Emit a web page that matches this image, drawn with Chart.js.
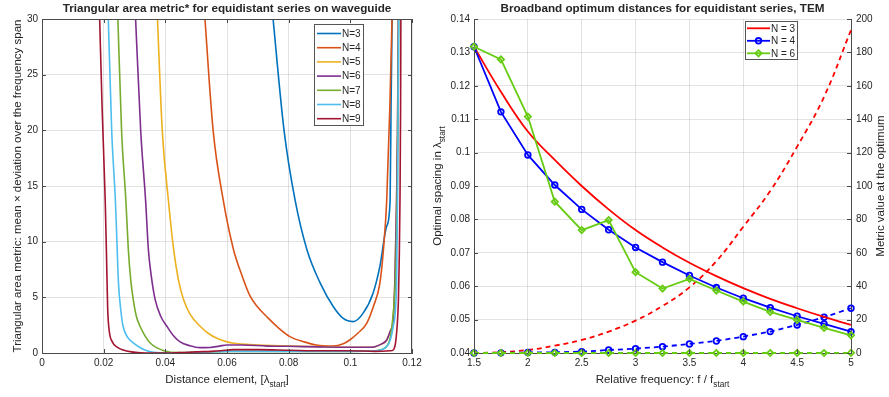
<!DOCTYPE html>
<html><head><meta charset="utf-8">
<script src="https://cdn.jsdelivr.net/npm/chart.js@4/dist/chart.umd.min.js"></script>
<style>
html,body{margin:0;padding:0;background:#fff;width:889px;height:397px;overflow:hidden}
#c1{position:absolute;left:0;top:0}
#c2{position:absolute;left:428px;top:0}
</style></head>
<body>
<canvas id="c1" width="428" height="397"></canvas>
<canvas id="c2" width="461" height="397"></canvas>
<script>
// ---------- LEFT PANEL DATA ----------
const leftLabels = ['N=3','N=4','N=5','N=6','N=7','N=8','N=9'];
const n3x = [0.0746,0.0785,0.0821,0.0859,0.0902,0.0944,0.0977,0.1009,0.1041,0.1074,0.1096,0.1118,0.1129,0.1132,0.1136];
const n3y = [31,20,13.7,9.3,6.3,4.2,3.1,2.82,3.56,5.4,7.8,11.4,13.7,22,31];
const n4x = [0.0526,0.0555,0.0588,0.0621,0.0648,0.0675,0.07,0.0729,0.0765,0.0804,0.085,0.089,0.0944,0.0975,0.0998,0.1025,0.1053,0.1075,0.1096,0.1108,0.1118,0.1128,0.1136];
const n4y = [31,20,13.7,9.3,7,5.1,4.1,3.26,2.3,1.47,1.0,0.72,0.63,0.8,1.17,1.8,2.67,4.2,6.3,9.5,13.7,22,31];
const n5x = [0.0373,0.039,0.041,0.0427,0.0443,0.0459,0.048,0.0513,0.054,0.0567,0.06,0.0621,0.065,0.07,0.08,0.09,0.1,0.106,0.108,0.11,0.1118,0.113,0.1139,0.1145,0.115,0.1153,0.1156];
const n5y = [31,20,13.7,9.3,6.5,4.8,3.5,2.4,1.75,1.32,1.0,0.87,0.8,0.72,0.62,0.57,0.52,0.52,0.57,0.8,1.17,2.0,3.0,7,13.7,20,31];
const n6x = [0.0302,0.032,0.0336,0.0345,0.0355,0.0367,0.0385,0.0405,0.0425,0.0448,0.048,0.0512,0.0545,0.0575,0.06,0.065,0.073,0.08,0.09,0.1,0.106,0.108,0.11,0.1118,0.113,0.1139,0.1145,0.115,0.1153,0.1156];
const n6y = [31,20,13.7,9.3,6.8,4.8,3.3,2.4,1.6,1.0,0.65,0.48,0.5,0.62,0.72,0.72,0.62,0.6,0.55,0.52,0.52,0.57,0.8,1.17,2.0,3.0,7,13.7,20,31];
const n7x = [0.0245,0.0258,0.0272,0.028,0.0288,0.0296,0.0306,0.0318,0.0335,0.0351,0.037,0.0395,0.044,0.05,0.06,0.07,0.08,0.09,0.1,0.108,0.1118,0.113,0.1139,0.1148,0.1152,0.1155,0.1157];
const n7y = [31,20,13.7,9.3,6.5,4.8,3.3,2.4,1.5,0.9,0.5,0.21,0.03,0.05,0.15,0.15,0.15,0.15,0.15,0.2,0.6,1.5,3.5,8,14,22,31];
const n8x = [0.0214,0.0226,0.0238,0.0242,0.0248,0.0255,0.0263,0.0278,0.0296,0.032,0.034,0.0383,0.045,0.05,0.06,0.07,0.08,0.09,0.1,0.108,0.1118,0.113,0.1139,0.115,0.1153,0.1155,0.1157];
const n8y = [31,20,13.7,10.8,6.3,4,2.4,1.4,0.9,0.45,0.21,0.02,0,0.05,0.15,0.15,0.15,0.15,0.15,0.2,0.57,1.2,2.4,6.3,13.7,22,31];
const n9x = [0.0186,0.0195,0.0205,0.0209,0.0213,0.0218,0.0228,0.0245,0.0263,0.029,0.032,0.036,0.042,0.046,0.05,0.055,0.058,0.062,0.07,0.08,0.09,0.1,0.108,0.113,0.1139,0.1146,0.115,0.1156,0.1159,0.1161,0.1163,0.1164];
const n9y = [31,22,13.7,9,4,2.0,1.0,0.5,0.27,0.1,0.02,0,0,0.05,0.1,0.15,0.2,0.3,0.3,0.25,0.2,0.2,0.15,0.2,0.27,0.8,1.8,4.8,9,13.7,22,31];
const leftXs = [n3x,n4x,n5x,n6x,n7x,n8x,n9x];
const leftYs = [n3y,n4y,n5y,n6y,n7y,n8y,n9y];
const leftXTicks = [0,0.02,0.04,0.06,0.08,0.1,0.12];
const leftXTickLabels = ['0','0.02','0.04','0.06','0.08','0.1','0.12'];
const leftYTicks = [0,5,10,15,20,25,30];
const leftYTickLabels = ['0','5','10','15','20','25','30'];

// ---------- RIGHT PANEL DATA ----------
const freq = [1.5,1.75,2,2.25,2.5,2.75,3,3.25,3.5,3.75,4,4.25,4.5,4.75,5];
const spacingN3 = [0.1317,0.1182,0.1063,0.0978,0.0900,0.0830,0.0768,0.0716,0.0670,0.0630,0.0594,0.0562,0.0534,0.0508,0.0484];
const spacingN4 = [0.1317,0.1122,0.0993,0.0903,0.0830,0.0769,0.0716,0.0672,0.0632,0.0596,0.0564,0.0536,0.0510,0.0487,0.0464];
const spacingN6 = [0.1317,0.1279,0.1108,0.0853,0.0768,0.0798,0.0642,0.0593,0.0622,0.0587,0.0554,0.0523,0.0499,0.0475,0.0453];
const metricN3 = [0,0.5,1.8,4.4,7.8,12.8,19.4,28.1,39.3,55,75.6,97,123.6,153.4,193.4];
const metricN4 = [0,0.1,0.3,0.4,0.8,1.8,2.6,3.8,5.4,7.2,9.8,12.8,16.8,21.4,26.8];
const metricN6 = [0,0,0,0,0,0,0,0,0,0,0,0,0,0,0.1];
const rightLabels = ['N = 3','N = 4','N = 6'];
const rightXTicks = [1.5,2,2.5,3,3.5,4,4.5,5];
const rightXTickLabels = ['1.5','2','2.5','3','3.5','4','4.5','5'];
const rightYTicks = [0.04,0.05,0.06,0.07,0.08,0.09,0.1,0.11,0.12,0.13,0.14];
const rightYTickLabels = ['0.04','0.05','0.06','0.07','0.08','0.09','0.1','0.11','0.12','0.13','0.14'];
const right2Ticks = [0,20,40,60,80,100,120,140,160,180,200];
const right2TickLabels = ['0','20','40','60','80','100','120','140','160','180','200'];

// ---------- STYLES ----------
const FONT = "'Liberation Sans', Arial, Helvetica, sans-serif";
const TXT = '#262626';
const GRID = 'rgba(38,38,38,0.13)';
const AXIS = '#4a4a4a';
const leftColors = ['#0072BD','#D95319','#EDB120','#7E2F8E','#77AC30','#4DBEEE','#A2142F'];
const cRed = '#ff0000', cBlue = '#0000ff', cGreen = '#66cc11';

Chart.defaults.font.family = FONT;
Chart.defaults.color = TXT;

function richDraw(ctx, parts, cx, cy, size, rot, bold){
  ctx.save();
  ctx.translate(cx, cy);
  if (rot) ctx.rotate(rot);
  const f = (s)=> (bold?'bold ':'') + s + 'px ' + FONT;
  let w = 0;
  for (const p of parts){ ctx.font = f(p.sub ? size*0.72 : size); w += ctx.measureText(p.t).width; }
  let x = -w/2;
  ctx.textBaseline = 'middle'; ctx.textAlign = 'left'; ctx.fillStyle = TXT;
  for (const p of parts){
    ctx.font = f(p.sub ? size*0.72 : size);
    ctx.fillText(p.t, x, p.sub ? size*0.42 : 0);
    x += ctx.measureText(p.t).width;
  }
  ctx.restore();
}

function setTicks(vals){ return (scale)=>{ scale.ticks = vals.map(v=>({value:v})); }; }
function fmt(labels){ return (v, i)=> labels[i]; }

const decorPlugin = {
  id: 'decor',
  afterDraw(chart, args, o){
    const ctx = chart.ctx, a = chart.chartArea;
    ctx.save();
    ctx.strokeStyle = AXIS; ctx.lineWidth = 1;
    ctx.beginPath();
    if (o.boxTop){ ctx.moveTo(a.left, a.top+0.5); ctx.lineTo(a.right, a.top+0.5); }
    if (o.boxRight){ ctx.moveTo(a.right-0.5, a.top); ctx.lineTo(a.right-0.5, a.bottom); }
    ctx.stroke();
    const L = 4;
    ctx.beginPath();
    const xs = chart.scales.x;
    xs.ticks.forEach(t=>{ const p = Math.round(xs.getPixelForValue(t.value))+0.5;
      ctx.moveTo(p, a.bottom); ctx.lineTo(p, a.bottom-L);
      if (o.boxTop){ ctx.moveTo(p, a.top); ctx.lineTo(p, a.top+L); } });
    const ys = chart.scales.y;
    ys.ticks.forEach(t=>{ const p = Math.round(ys.getPixelForValue(t.value))+0.5;
      ctx.moveTo(a.left, p); ctx.lineTo(a.left+L, p);
      if (o.boxRight){ ctx.moveTo(a.right, p); ctx.lineTo(a.right-L, p); } });
    if (chart.scales.y1){ const y1 = chart.scales.y1;
      y1.ticks.forEach(t=>{ const p = Math.round(y1.getPixelForValue(t.value))+0.5;
        ctx.moveTo(a.right, p); ctx.lineTo(a.right-L, p); }); }
    ctx.stroke();
    richDraw(ctx, o.title, (a.left+a.right)/2, 9, 11.7, 0, true);
    richDraw(ctx, o.xTitle, (a.left+a.right)/2, 380, 11.5, 0, false);
    richDraw(ctx, o.yTitle, o.yTitleX, (a.top+a.bottom)/2, 11.5, -Math.PI/2, false);
    if (o.y1Title) richDraw(ctx, o.y1Title, o.y1TitleX, (a.top+a.bottom)/2, 11.5, -Math.PI/2, false);
    const lg = o.legend;
    const items = lg.items.map(i=>chart.data.datasets[i]);
    ctx.fillStyle = '#fff'; ctx.fillRect(lg.x, lg.y, lg.w, lg.h);
    ctx.strokeStyle = '#555'; ctx.lineWidth = 1;
    ctx.strokeRect(lg.x+0.5, lg.y+0.5, lg.w, lg.h);
    ctx.font = '10px ' + FONT; ctx.textBaseline = 'middle'; ctx.textAlign = 'left'; ctx.fillStyle = TXT;
    items.forEach((d, k)=>{
      const cy = lg.y + lg.first + k*lg.step;
      ctx.strokeStyle = d.borderColor; ctx.lineWidth = d.borderWidth; ctx.setLineDash([]);
      ctx.beginPath(); ctx.moveTo(lg.x+lg.l0, cy); ctx.lineTo(lg.x+lg.l1, cy); ctx.stroke();
      if (d.pointRadius > 0){
        const mx = lg.x + (lg.l0+lg.l1)/2, r = d.pointRadius;
        ctx.lineWidth = d.pointBorderWidth; ctx.strokeStyle = d.borderColor; ctx.beginPath();
        if (d.pointStyle === 'circle'){ ctx.arc(mx, cy, r, 0, Math.PI*2); }
        else { ctx.moveTo(mx, cy-r); ctx.lineTo(mx+r, cy); ctx.lineTo(mx, cy+r); ctx.lineTo(mx-r, cy); ctx.closePath(); }
        ctx.stroke();
      }
      ctx.fillStyle = TXT;
      ctx.fillText(d.label, lg.x+lg.tx, cy+0.5);
    });
    ctx.restore();
  }
};

// ---------- LEFT CHART ----------
const leftDatasets = leftLabels.map((lab, i)=>({
  label: lab,
  data: leftXs[i].map((x, k)=>({x, y: leftYs[i][k]})),
  borderColor: leftColors[i],
  backgroundColor: leftColors[i],
  borderWidth: 1.6,
  pointRadius: 0,
  pointBorderWidth: 0,
  cubicInterpolationMode: 'monotone',
  order: leftLabels.length - i
}));

new Chart(document.getElementById('c1'), {
  type: 'line',
  data: { datasets: leftDatasets },
  plugins: [decorPlugin],
  options: {
    responsive: false, animation: false, devicePixelRatio: 1,
    layout: { padding: { top: 19, right: 16, left: 0, bottom: 0 } },
    plugins: {
      legend: { display: false }, tooltip: { enabled: false },
      decor: {
        boxTop: true, boxRight: true,
        title: [{t:'Triangular area metric* for equidistant series on waveguide'}],
        xTitle: [{t:'Distance element, [\u03bb'},{t:'start',sub:true},{t:']'}],
        yTitle: [{t:'Triangular area metric: mean \u00d7 deviation over the frequency span'}],
        yTitleX: 18,
        legend: { items:[0,1,2,3,4,5,6], x:314, y:24, w:49, h:101, first:9.5, step:14.2, l0:3, l1:27, tx:28 }
      }
    },
    scales: {
      x: {
        type: 'linear', min: 0, max: 0.12,
        afterBuildTicks: setTicks(leftXTicks),
        afterFit: s=>{ s.height = 44; },
        ticks: { callback: fmt(leftXTickLabels), font:{size:10}, color: TXT, padding: 4, maxRotation: 0, autoSkip: false },
        grid: { color: GRID, drawTicks: false },
        border: { color: AXIS, width: 1 }
      },
      y: {
        type: 'linear', min: 0, max: 30,
        afterBuildTicks: setTicks(leftYTicks),
        afterFit: s=>{ s.width = 42; },
        ticks: { callback: fmt(leftYTickLabels), font:{size:10}, color: TXT, padding: 4, autoSkip: false },
        grid: { color: GRID, drawTicks: false },
        border: { color: AXIS, width: 1 }
      }
    }
  }
});

// ---------- RIGHT CHART ----------
const mk = (arr)=> freq.map((x, k)=>({x, y: arr[k]}));
const rightDatasets = [
  { label: rightLabels[0], data: mk(spacingN3), yAxisID: 'y', borderColor: cRed, backgroundColor: cRed,
    borderWidth: 1.8, pointRadius: 0, pointBorderWidth: 0, tension: 0.4, clip: false, order: 3 },
  { label: rightLabels[1], data: mk(spacingN4), yAxisID: 'y', borderColor: cBlue, backgroundColor: 'rgba(0,0,0,0)',
    borderWidth: 1.8, pointRadius: 2.8, pointBorderWidth: 1.8, pointStyle: 'circle', pointBorderColor: cBlue, pointBackgroundColor: 'rgba(0,0,0,0)', clip: false, order: 2 },
  { label: rightLabels[2], data: mk(spacingN6), yAxisID: 'y', borderColor: cGreen, backgroundColor: 'rgba(0,0,0,0)',
    borderWidth: 1.8, pointRadius: 3.1, pointBorderWidth: 1.8, pointStyle: 'rectRot', pointBorderColor: cGreen, pointBackgroundColor: 'rgba(0,0,0,0)', clip: false, order: 1 },
  { label: rightLabels[0], data: mk(metricN3), yAxisID: 'y1', borderColor: cRed, borderWidth: 1.8, borderDash: [5,4],
    pointRadius: 0, tension: 0.4, clip: false, order: 6 },
  { label: rightLabels[1], data: mk(metricN4), yAxisID: 'y1', borderColor: cBlue, borderWidth: 1.8, borderDash: [5,4],
    pointRadius: 2.8, pointBorderWidth: 1.8, pointStyle: 'circle', pointBorderColor: cBlue, pointBackgroundColor: 'rgba(0,0,0,0)', clip: false, order: 5 },
  { label: rightLabels[2], data: mk(metricN6), yAxisID: 'y1', borderColor: cGreen, borderWidth: 1.8, borderDash: [5,4],
    pointRadius: 3.1, pointBorderWidth: 1.8, pointStyle: 'rectRot', pointBorderColor: cGreen, pointBackgroundColor: 'rgba(0,0,0,0)', clip: false, order: 4 }
];

new Chart(document.getElementById('c2'), {
  type: 'line',
  data: { datasets: rightDatasets },
  plugins: [decorPlugin],
  options: {
    responsive: false, animation: false, devicePixelRatio: 1,
    layout: { padding: { top: 19, right: 0, left: 0, bottom: 0 } },
    plugins: {
      legend: { display: false }, tooltip: { enabled: false },
      decor: {
        boxTop: false, boxRight: false,
        title: [{t:'Broadband optimum distances for equidistant series, TEM'}],
        xTitle: [{t:'Relative frequency: f / f'},{t:'start',sub:true}],
        yTitle: [{t:'Optimal spacing in \u03bb'},{t:'start',sub:true}],
        yTitleX: 10,
        y1Title: [{t:'Metric value at the optimum'}],
        y1TitleX: 453,
        legend: { items:[0,1,2], x:317, y:21, w:52, h:38, first:7.3, step:12.5, l0:2, l1:25, tx:26 }
      }
    },
    scales: {
      x: {
        type: 'linear', min: 1.5, max: 5,
        afterBuildTicks: setTicks(rightXTicks),
        afterFit: s=>{ s.height = 44; },
        ticks: { callback: fmt(rightXTickLabels), font:{size:10}, color: TXT, padding: 4, maxRotation: 0, autoSkip: false },
        grid: { color: GRID, drawTicks: false },
        border: { color: AXIS, width: 1 }
      },
      y: {
        type: 'linear', position: 'left', min: 0.04, max: 0.14,
        afterBuildTicks: setTicks(rightYTicks),
        afterFit: s=>{ s.width = 46; },
        ticks: { callback: fmt(rightYTickLabels), font:{size:10}, color: TXT, padding: 4, autoSkip: false },
        grid: { color: GRID, drawTicks: false },
        border: { color: AXIS, width: 1 }
      },
      y1: {
        type: 'linear', position: 'right', min: 0, max: 200,
        afterBuildTicks: setTicks(right2Ticks),
        afterFit: s=>{ s.width = 38; },
        ticks: { callback: fmt(right2TickLabels), font:{size:10}, color: TXT, padding: 5, autoSkip: false },
        grid: { drawOnChartArea: false, drawTicks: false },
        border: { color: AXIS, width: 1 }
      }
    }
  }
});
</script>
</body></html>
